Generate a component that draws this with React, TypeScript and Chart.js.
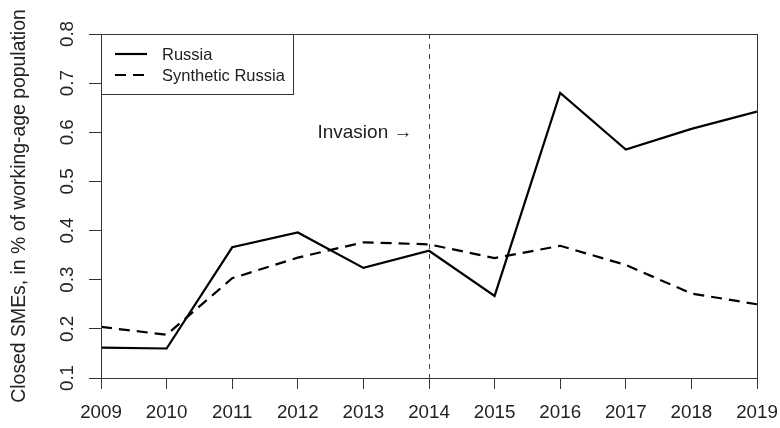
import React, { useEffect, useRef } from "react";
import { Chart, registerables } from "chart.js";

Chart.register(...registerables);

const YEARS = [2009, 2010, 2011, 2012, 2013, 2014, 2015, 2016, 2017, 2018, 2019];
const RUSSIA = [0.162, 0.160, 0.366, 0.396, 0.324, 0.359, 0.267, 0.680, 0.565, 0.607, 0.642];
const SYNTHETIC = [0.204, 0.188, 0.303, 0.345, 0.376, 0.372, 0.344, 0.369, 0.330, 0.272, 0.250];
const SERIES_LABELS = ["Russia", "Synthetic Russia"];
const Y_TITLE = "Closed SMEs, in % of working-age population";
const INVASION_YEAR = 2014;
const INVASION_LABEL = "Invasion \u2192";
const INVASION_LABEL_Y = 0.6;

const FONT = "'Liberation Sans', Arial, Helvetica, sans-serif";
const AXIS_COLOR = "#333";
const TEXT_COLOR = "#222";

const overlayPlugin = {
  id: "overlay",
  afterDatasetsDraw(chart: any) {
    const { ctx, chartArea, scales } = chart;
    const xs = scales.x;
    const ys = scales.y;
    ctx.save();
    // vertical invasion line
    const xi = Math.round(xs.getPixelForValue(INVASION_YEAR)) + 0.5;
    ctx.strokeStyle = "#444";
    ctx.lineWidth = 1;
    ctx.setLineDash([5, 5]);
    ctx.beginPath();
    ctx.moveTo(xi, chartArea.top);
    ctx.lineTo(xi, chartArea.bottom);
    ctx.stroke();
    ctx.setLineDash([]);
    // invasion label
    ctx.fillStyle = TEXT_COLOR;
    ctx.font = `19px ${FONT}`;
    ctx.textAlign = "right";
    ctx.textBaseline = "middle";
    ctx.fillText(INVASION_LABEL, xi - 17, ys.getPixelForValue(INVASION_LABEL_Y));
    // legend box
    const lx = Math.round(chartArea.left);
    const ly = Math.round(chartArea.top);
    ctx.strokeStyle = AXIS_COLOR;
    ctx.lineWidth = 1;
    ctx.strokeRect(lx + 0.5, ly + 0.5, 192, 60);
    ctx.font = `16.5px ${FONT}`;
    ctx.textAlign = "left";
    chart.data.datasets.forEach((ds: any, i: number) => {
      const yy = ly + 20 + i * 21;
      ctx.strokeStyle = ds.borderColor;
      ctx.lineWidth = ds.borderWidth;
      ctx.setLineDash(ds.borderDash || []);
      ctx.beginPath();
      ctx.moveTo(lx + 14, yy);
      ctx.lineTo(lx + 46, yy);
      ctx.stroke();
      ctx.setLineDash([]);
      ctx.fillStyle = TEXT_COLOR;
      ctx.fillText(ds.label, lx + 61, yy + 1);
    });
    // plot box
    ctx.strokeStyle = AXIS_COLOR;
    ctx.lineWidth = 1;
    ctx.strokeRect(
      Math.round(chartArea.left) + 0.5,
      Math.round(chartArea.top) + 0.5,
      Math.round(chartArea.right - chartArea.left),
      Math.round(chartArea.bottom - chartArea.top)
    );
    ctx.restore();
  },
};

export default function App() {
  const ref = useRef<HTMLCanvasElement | null>(null);
  useEffect(() => {
    if (!ref.current) return;
    const chart = new Chart(ref.current, {
      type: "line",
      data: {
        datasets: [
          {
            label: SERIES_LABELS[0],
            data: YEARS.map((x, i) => ({ x, y: RUSSIA[i] })),
            borderColor: "#000",
            borderWidth: 2.2,
            pointRadius: 0,
            tension: 0,
            fill: false,
          },
          {
            label: SERIES_LABELS[1],
            data: YEARS.map((x, i) => ({ x, y: SYNTHETIC[i] })),
            borderColor: "#000",
            borderWidth: 2.2,
            borderDash: [11, 7],
            pointRadius: 0,
            tension: 0,
            fill: false,
          },
        ],
      },
      options: {
        animation: false,
        responsive: true,
        maintainAspectRatio: false,
        layout: { padding: { top: 34, right: 23, left: 0, bottom: 0 } },
        plugins: { legend: { display: false }, tooltip: { enabled: false } },
        scales: {
          x: {
            type: "linear",
            min: 2009,
            max: 2019,
            afterFit: (s: any) => {
              s.height = 50;
              s.paddingLeft = 0;
              s.paddingRight = 0;
            },
            ticks: {
              stepSize: 1,
              autoSkip: false,
              maxRotation: 0,
              padding: 13,
              color: TEXT_COLOR,
              font: { family: FONT, size: 18.75 },
              callback: (v: any) => String(v),
            },
            grid: { drawOnChartArea: false, drawTicks: true, tickLength: 11, color: AXIS_COLOR, lineWidth: 1 },
            border: { display: true, color: AXIS_COLOR, width: 1 },
          },
          y: {
            type: "linear",
            min: 0.1,
            max: 0.8,
            afterFit: (s: any) => {
              s.width = 101;
              s.paddingTop = 0;
              s.paddingBottom = 0;
            },
            ticks: {
              stepSize: 0.1,
              autoSkip: false,
              minRotation: 90,
              maxRotation: 90,
              crossAlign: "center",
              padding: 8,
              color: TEXT_COLOR,
              font: { family: FONT, size: 18.75 },
              callback: (v: any) => Number(v).toFixed(1),
            },
            title: {
              display: true,
              text: Y_TITLE,
              color: TEXT_COLOR,
              font: { family: FONT, size: 19.4 },
              padding: { top: 8, bottom: 0 },
            },
            grid: { drawOnChartArea: false, drawTicks: true, tickLength: 12, color: AXIS_COLOR, lineWidth: 1 },
            border: { display: true, color: AXIS_COLOR, width: 1 },
          },
        },
      },
      plugins: [overlayPlugin],
    });
    return () => chart.destroy();
  }, []);
  return (
    <div style={{ position: "fixed", left: 0, top: 0, width: 780, height: 428, background: "#fff" }}>
      <canvas ref={ref} />
    </div>
  );
}
